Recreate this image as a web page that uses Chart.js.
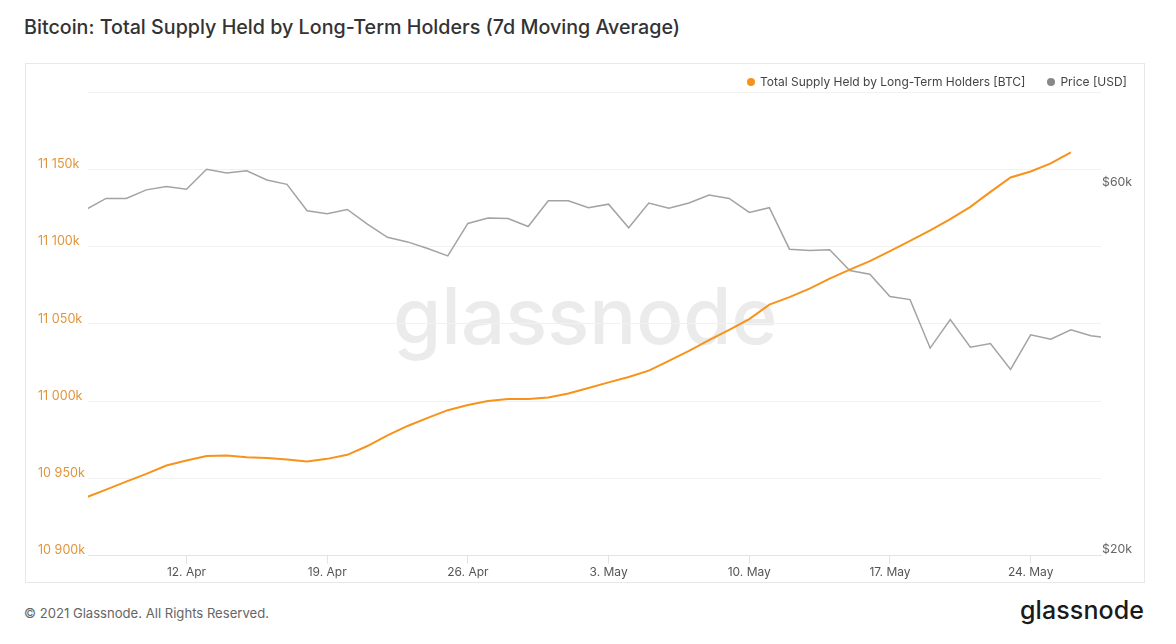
<!DOCTYPE html>
<html lang="en">
<head>
<meta charset="UTF-8">
<title>Bitcoin: Total Supply Held by Long-Term Holders</title>
<script src="https://cdn.jsdelivr.net/npm/chart.js@4.4.0/dist/chart.umd.min.js"></script>
<style>
  body { margin: 0; background: #fff; font-family: Inter, sans-serif; }
  #title { position: absolute; left: 24px; top: 15px; font-size: 19.7px; font-weight: 500; color: #333; }
  #box { position: absolute; left: 25px; top: 63px; width: 1118px; height: 518px; border: 1px solid #e8e8e8; }
  #mark { position: absolute; left: 367px; top: 204px; font-size: 78px; font-weight: 500; color: #ebebeb; }
  #legend { position: absolute; right: 17px; top: 10px; font-size: 12px; color: #444; }
  #legend span.dot { display: inline-block; width: 8px; height: 8px; border-radius: 50%; margin-right: 5px; vertical-align: 0; }
  #legend span.item { margin-left: 22px; }
  #chart { position: absolute; left: 0; top: 0; }
  #foot { position: absolute; left: 24px; top: 605px; font-size: 13.1px; color: #666; }
  #logo { position: absolute; left: 1020px; top: 595px; font-size: 25px; font-weight: 500; color: #1a1a1a; letter-spacing: 0.1px; }
</style>
</head>
<body>
<div id="title">Bitcoin: Total Supply Held by Long-Term Holders (7d Moving Average)</div>
<div id="box">
  <div id="mark">glassnode</div>
  <canvas id="chart" width="1118" height="518"></canvas>
  <div id="legend"></div>
</div>
<div id="foot">© 2021 Glassnode. All Rights Reserved.</div>
<div id="logo">glassnode</div>

<script>
// day index 0 = 7 Apr 2021
const supplyDays = [0,1,2,3,4,5,6,7,8,9,10,11,12,13,14,15,16,17,18,19,20,21,22,23,24,
  25,26,27,28,29,30,31,32,33,34,35,36,37,38,39,40,41,42,43,44,45,46,47,48,49];
const supplyBTC = [10937700,10942700,10947900,10952900,10958300,10961600,10964400,10964800,10963700,10963100,
  10962200,10960900,10962600,10965200,10970900,10977800,10983900,10989100,10994100,10997400,
  11000000,11001400,11001400,11002300,11004900,11008400,11012100,11015600,11019700,11026000,
  11032500,11039400,11046100,11053000,11062400,11067300,11072800,11079200,11085100,11090500,
  11097000,11103600,11110500,11117700,11125700,11135400,11144700,11148600,11153800,11161000];

const priceDays = [0,1,2,3,4,5,6,7,8,9,10,11,12,13,14,15,16,17,18,19,20,21,22,23,24,25,
  26,27,28,29,30,31,32,33,34,35,36,37,38,39,40,41,42,43,44,45,46,47,48,49,50,51];
const priceUSD = [56300,58200,58200,59700,60300,59800,63500,62800,63200,61500,
  60700,56100,55600,56300,53900,51800,51100,50100,49000,54000,
  54900,54800,53500,57800,57800,56600,57200,53300,57400,56500,
  57400,58800,58200,55800,56600,50000,49800,49900,46900,46400,
  43400,43000,37200,40500,37300,37700,34900,38700,38200,39300,38600,38300];

const xTickDays = [5, 12, 19, 26, 33, 40, 47];
const xTickLabels = ['12. Apr', '19. Apr', '26. Apr', '3. May', '10. May', '17. May', '24. May'];
const priceTicks = [20000, 60000];

const supplyColor = '#f7931a';
const priceColor = '#a3a3a3';

const legendItems = [
  { label: 'Total Supply Held by Long-Term Holders [BTC]', color: supplyColor },
  { label: 'Price [USD]', color: '#888' }
];
document.getElementById('legend').innerHTML = legendItems.map(it =>
  '<span class="item"><span class="dot" style="background:' + it.color + '"></span>' + it.label + '</span>').join('');

function fmtK(v) {
  const k = Math.round(v / 1000);
  return String(k).replace(/\B(?=(\d{3})+(?!\d))/g, ' ') + 'k';
}

const ctx = document.getElementById('chart').getContext('2d');
new Chart(ctx, {
  type: 'line',
  data: {
    datasets: [{
      label: 'Total Supply Held by Long-Term Holders [BTC]',
      data: supplyDays.map((d, i) => ({ x: d, y: supplyBTC[i] })),
      borderColor: supplyColor,
      borderWidth: 2,
      pointRadius: 0,
      tension: 0,
      yAxisID: 'y'
    }, {
      label: 'Price [USD]',
      data: priceDays.map((d, i) => ({ x: d, y: priceUSD[i] })),
      borderColor: priceColor,
      borderWidth: 1.5,
      pointRadius: 0,
      tension: 0,
      yAxisID: 'y2'
    }]
  },
  options: {
    responsive: false,
    animation: false,
    layout: { padding: { left: 12, top: 28, right: 0, bottom: 0 } },
    plugins: { legend: { display: false }, tooltip: { enabled: false } },
    scales: {
      x: {
        type: 'linear',
        min: 0.1,
        max: 50.5,
        afterBuildTicks: axis => { axis.ticks = xTickDays.map(v => ({ value: v })); },
        ticks: {
          callback: v => xTickLabels[xTickDays.indexOf(v)],
          color: '#555',
          font: { family: 'Inter', size: 12 },
          padding: 2,
          maxRotation: 0
        },
        grid: { drawOnChartArea: false, tickLength: 8, color: '#e3e3e3' },
        border: { color: '#e3e3e3' }
      },
      y: {
        position: 'left',
        min: 10900000,
        max: 11200000,
        afterFit: axis => { axis.width = 50; },
        ticks: {
          stepSize: 50000,
          callback: v => v >= 11200000 ? '' : fmtK(v),
          color: '#e0953c',
          font: { family: 'Inter', size: 12.6 },
          crossAlign: 'far',
          labelOffset: -5
        },
        grid: { color: '#f1f1f1', drawTicks: false },
        border: { display: false }
      },
      y2: {
        type: 'logarithmic',
        position: 'right',
        min: 20000,
        max: 80000,
        afterFit: axis => { axis.width = 43; },
        afterBuildTicks: axis => { axis.ticks = priceTicks.map(v => ({ value: v })); },
        ticks: {
          callback: v => '$' + (v / 1000) + 'k',
          color: '#666',
          font: { family: 'Inter', size: 12.3 },
          padding: 1,
          labelOffset: -6
        },
        grid: { display: false, drawTicks: false },
        border: { display: false }
      }
    }
  }
});
</script>
</body>
</html>
